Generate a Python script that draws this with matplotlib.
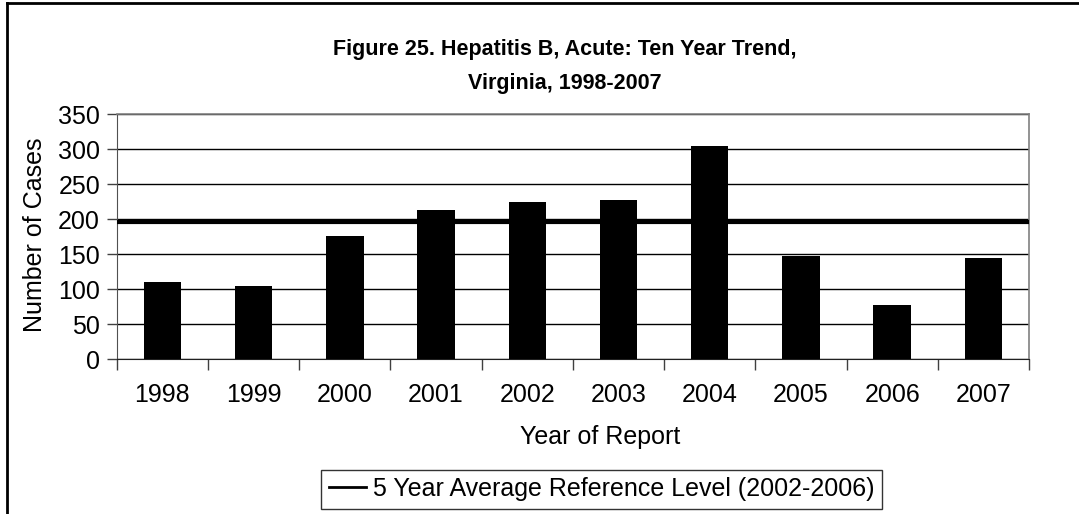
import numpy as np
import matplotlib
matplotlib.use('Agg')
import matplotlib.pyplot as plt
from matplotlib.lines import Line2D

plt.rcParams['font.family'] = ['Liberation Sans', 'DejaVu Sans']

# 数据
years = ['1998', '1999', '2000', '2001', '2002', '2003', '2004', '2005', '2006', '2007']
cases = [110, 105, 176, 213, 225, 227, 304, 148, 78, 145]
avg_level = 196.4  # 2002-2006 平均
y_ticks = [0, 50, 100, 150, 200, 250, 300, 350]

FS = 18

fig = plt.figure(figsize=(10.79, 5.14), dpi=100)
ax = fig.add_axes([0.1082, 0.3010, 0.8455, 0.4772])

x = np.arange(len(years))
ax.bar(x, cases, width=0.41, color='black', zorder=3)
ax.axhline(avg_level, color='black', linewidth=3, zorder=4)

ax.set_xlim(-0.5, len(years) - 0.5)
ax.set_ylim(0, 350)
ax.set_yticks(y_ticks)
ax.set_yticklabels([str(v) for v in y_ticks], fontsize=FS)
ax.yaxis.grid(True, color='black', linewidth=1, zorder=1)
ax.set_axisbelow(True)

# x 轴刻度在类别之间
ax.set_xticks(np.arange(-0.5, len(years), 1.0))
ax.set_xticklabels([])
ax.set_xticks(x, minor=True)
ax.set_xticklabels(years, minor=True, fontsize=FS)
ax.tick_params(axis='x', which='minor', length=0, pad=17)
ax.tick_params(axis='x', which='major', length=8, width=1, color='#404040')
ax.tick_params(axis='y', length=7, width=1, color='#404040', pad=5)

for s in ['top', 'right']:
    ax.spines[s].set_color('#808080')
    ax.spines[s].set_linewidth(1.2)
ax.spines['left'].set_color('#505050')
ax.spines['bottom'].set_color('#202020')

fig.text(35 / 1079, 1 - 235 / 514, 'Number of Cases', rotation=90,
         ha='center', va='center', fontsize=FS)
fig.text(600 / 1079, 1 - 437 / 514, 'Year of Report',
         ha='center', va='center', fontsize=FS)

fig.text(565 / 1079, 1 - 50 / 514, 'Figure 25. Hepatitis B, Acute: Ten Year Trend,',
         ha='center', va='center', fontsize=15.5, fontweight='bold')
fig.text(565 / 1079, 1 - 83 / 514, 'Virginia, 1998-2007',
         ha='center', va='center', fontsize=15.5, fontweight='bold')

handle = Line2D([], [], color='black', linewidth=2)
leg = fig.legend([handle], ['5 Year Average Reference Level (2002-2006)'],
                 loc='center', bbox_to_anchor=(601.5 / 1079, 1 - 489 / 514), fontsize=FS,
                 frameon=True, fancybox=False, handlelength=1.5,
                 handletextpad=0.25, borderpad=0.3, borderaxespad=0)
leg.get_frame().set_edgecolor('black')
leg.get_frame().set_linewidth(1)

# 图框 (左边和上边)
fig.add_artist(Line2D([7 / 1079, 7 / 1079], [0, 1 - 3 / 514], color='black',
                      linewidth=2, transform=fig.transFigure))
fig.add_artist(Line2D([7 / 1079, 1], [1 - 3 / 514, 1 - 3 / 514], color='black',
                      linewidth=2, transform=fig.transFigure))

plt.savefig('out.png', dpi=100)
plt.close()
